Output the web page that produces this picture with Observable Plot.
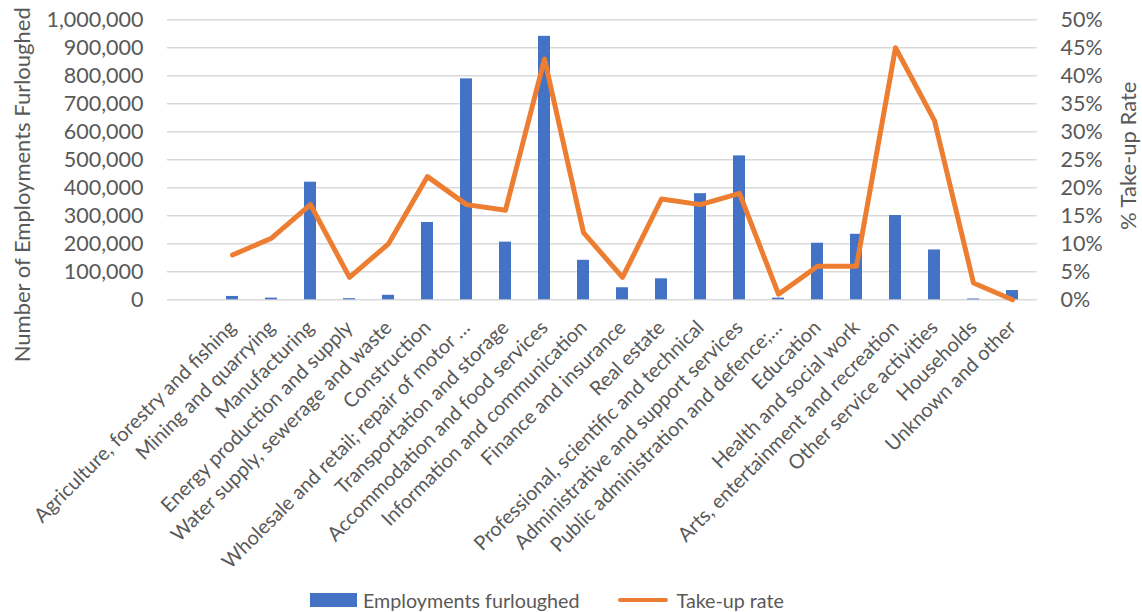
<!DOCTYPE html>
<html>
<head>
<meta charset="utf-8">
<script src="https://cdn.jsdelivr.net/npm/d3@7"></script>
<script src="https://cdn.jsdelivr.net/npm/@observablehq/plot@0.6"></script>
<style>
  html, body { margin: 0; padding: 0; background: #fff; }
  body { position: relative; width: 1142px; height: 612px; overflow: hidden; font-family: Lato, sans-serif; }
  #legend { position: absolute; left: 310px; top: 585px; height: 30px; display: flex; align-items: center; font: 19.7px Lato, sans-serif; color: #595959; white-space: nowrap; }
  .sw-bar { display: inline-block; width: 47px; height: 14px; background: #4472C4; margin-right: 6px; }
  .sw-line { display: inline-block; width: 50px; height: 4.5px; background: #ED7D31; border-radius: 2px; margin-left: 38px; margin-right: 9px; }
</style>
</head>
<body>
<div id="chart"></div>
<div id="legend"><span class="sw-bar"></span><span>Employments furloughed</span><span class="sw-line"></span><span>Take-up rate</span></div>
<script>
const categories = [
  "Agriculture, forestry and fishing",
  "Mining and quarrying",
  "Manufacturing",
  "Energy production and supply",
  "Water supply, sewerage and waste",
  "Construction",
  "Wholesale and retail; repair of motor …",
  "Transportation and storage",
  "Accommodation and food services",
  "Information and communication",
  "Finance and insurance",
  "Real estate",
  "Professional, scientific and technical",
  "Administrative and support services",
  "Public administration and defence;…",
  "Education",
  "Health and social work",
  "Arts, entertainment and recreation",
  "Other service activities",
  "Households",
  "Unknown and other"
];
const furloughed = [12000, 6000, 420000, 4000, 16000, 276000, 789000, 206000, 941000, 141000, 43000, 75000, 379000, 514000, 6000, 202000, 234000, 301000, 178000, 3000, 33000];
const takeUpRate = [8, 11, 17, 4, 10, 22, 17, 16, 43, 12, 4, 18, 17, 19, 1, 6, 6, 45, 32, 3, 0];
const countTicks = [0, 100000, 200000, 300000, 400000, 500000, 600000, 700000, 800000, 900000, 1000000];
const pctTicks = [0, 5, 10, 15, 20, 25, 30, 35, 40, 45, 50];

const leftTitle = "Number of Employments Furloughed";
const rightTitle = "% Take-up Rate";

// right axis: 50% aligns with 1,000,000
const pctToCount = 1000000 / 50;

const data = categories.map((c, i) => ({cat: c, value: furloughed[i], rate: takeUpRate[i]}));

const textColor = "#595959";

const chart = Plot.plot({
  width: 1142,
  height: 580,
  marginTop: 19.3,
  marginBottom: 280.7,
  marginLeft: 167,
  marginRight: 105.3,
  style: {fontFamily: "Lato, sans-serif", color: textColor, background: "white", overflow: "visible"},
  x: {domain: categories, range: [207.25, 1036.75], paddingInner: 0.684, paddingOuter: 0.342, axis: null},
  y: {domain: [0, 1000000]},
  marks: [
    Plot.gridY(countTicks, {stroke: "#D9D9D9", strokeOpacity: 1, strokeWidth: 1.4}),
    Plot.barY(data, {x: "cat", y: "value", fill: "#4472C4"}),
    Plot.line(data, {x: "cat", y: d => d.rate * pctToCount, stroke: "#ED7D31", strokeWidth: 5, strokeLinejoin: "round", strokeLinecap: "round"}),
    Plot.axisY(countTicks, {anchor: "left", tickSize: 0, tickPadding: 24, tickFormat: d3.format(","), fontSize: 21.5, label: null, fill: textColor}),
    Plot.axisY(pctTicks.map(p => p * pctToCount), {anchor: "right", tickSize: 0, tickPadding: 23.3, tickFormat: d => Math.round(d / pctToCount) + "%", fontSize: 21.5, label: null, fill: textColor}),
    Plot.text(categories, {x: d => d, frameAnchor: "bottom", dy: 24.6, rotate: -45, textAnchor: "end", lineAnchor: "middle", fontSize: 20, fill: textColor}),
    Plot.text([leftTitle], {frameAnchor: "left", rotate: -90, dx: -144.4, dy: 25, fontSize: 22, fill: textColor, textAnchor: "middle", lineAnchor: "middle"}),
    Plot.text([rightTitle], {frameAnchor: "right", rotate: -90, dx: 91.6, dy: -4, fontSize: 22, fill: textColor, textAnchor: "middle", lineAnchor: "middle"})
  ]
});
document.getElementById("chart").appendChild(chart);
</script>
</body>
</html>
